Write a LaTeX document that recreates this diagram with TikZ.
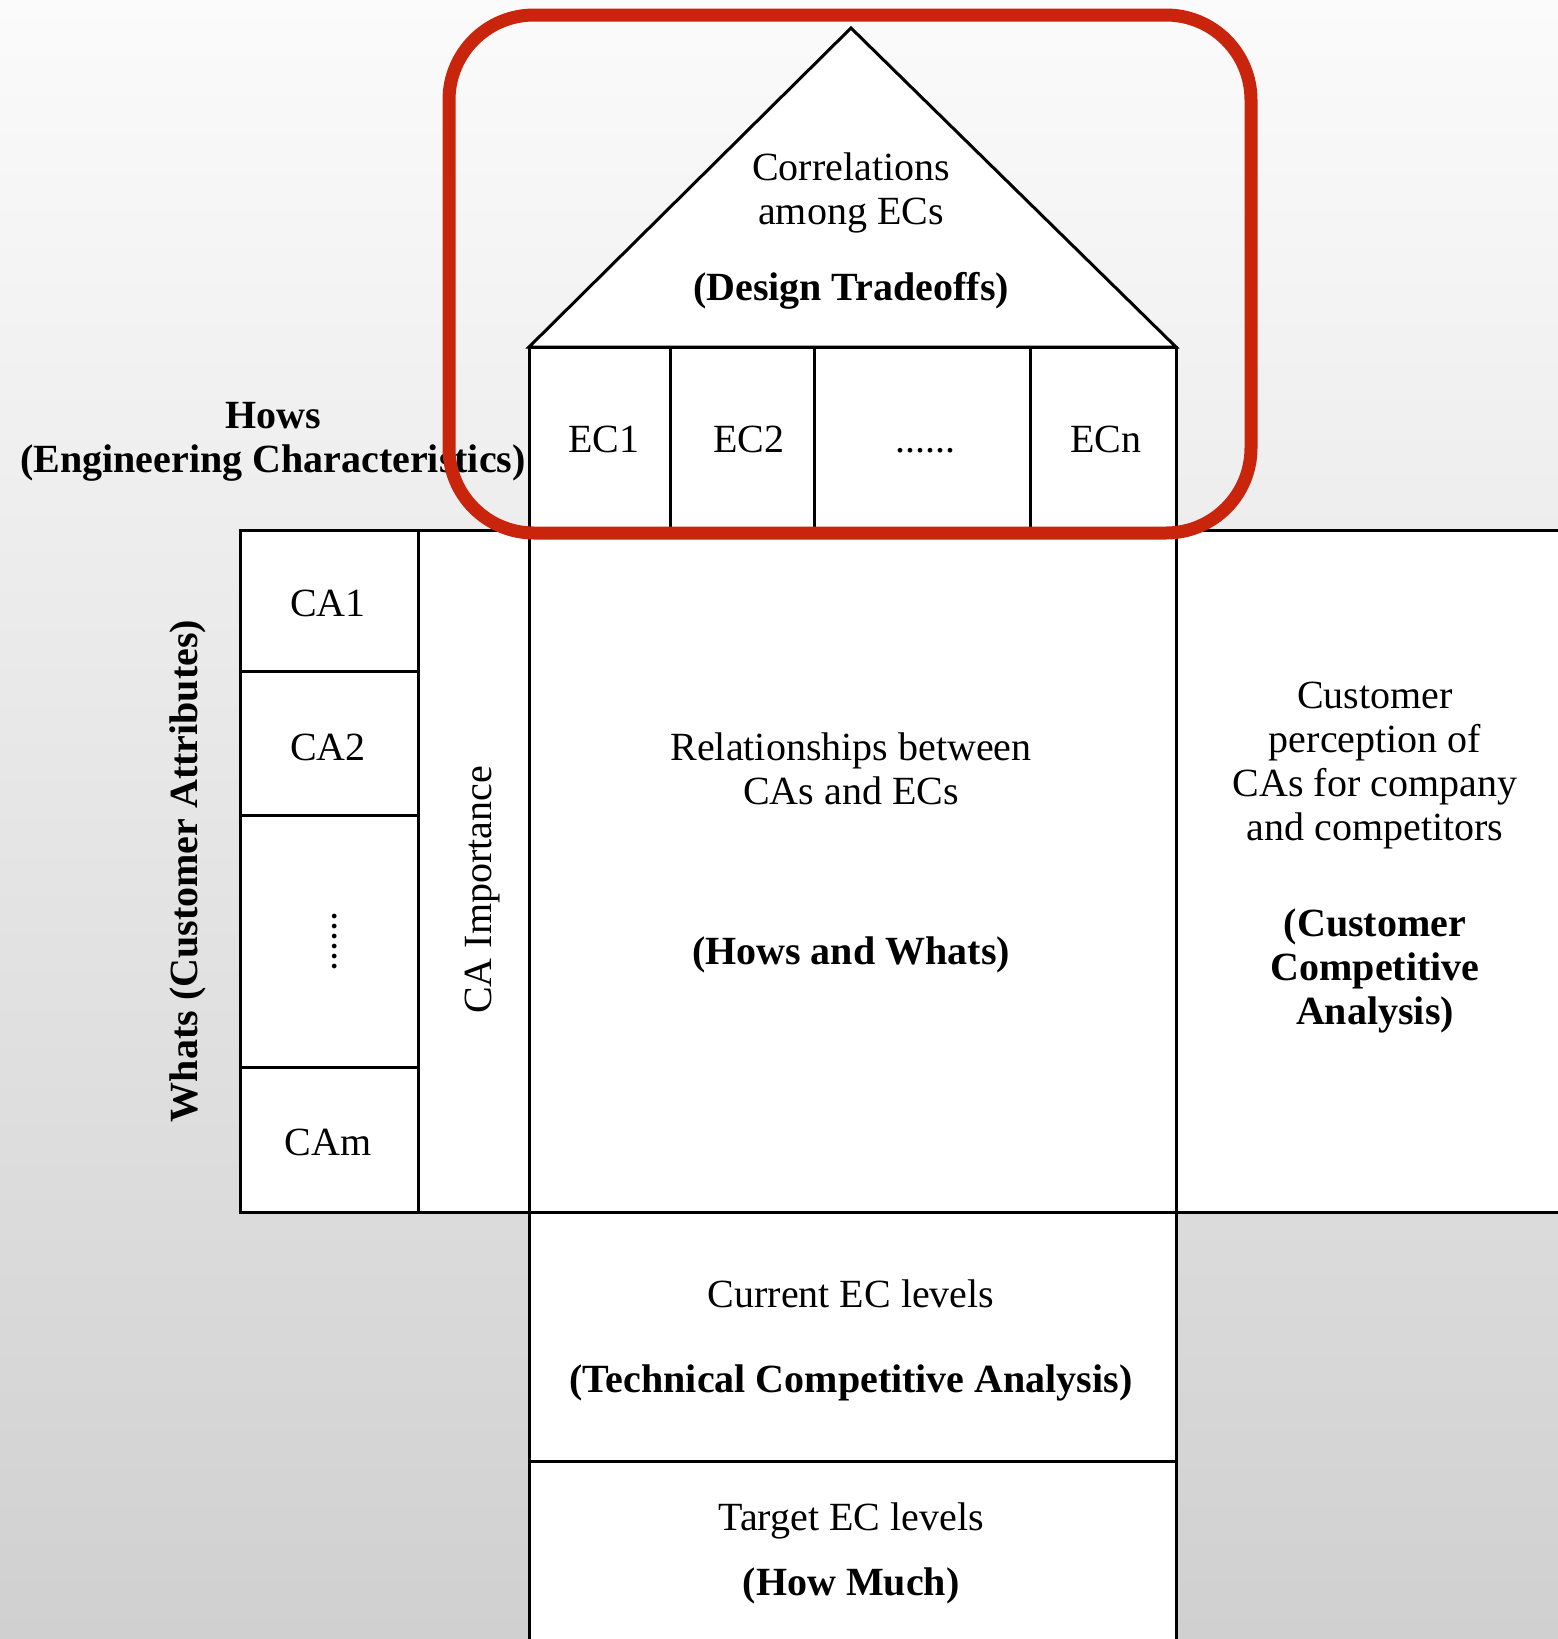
\documentclass[tikz,border=0pt]{standalone}
\usepackage{fontspec}
\setmainfont{Liberation Serif}
\definecolor{frame}{RGB}{201,36,12}
\definecolor{bgtop}{RGB}{251,251,251}
\definecolor{bgbot}{RGB}{208,208,208}
\begin{document}
\begin{tikzpicture}[x=1pt,y=-1pt,
  cell/.style={draw=black, fill=white, line width=3pt, inner sep=0pt, outer sep=0pt},
  txt/.style={font=\fontsize{40}{44}\selectfont, align=center, inner sep=0pt, anchor=base},
  btxt/.style={txt, font=\fontsize{40}{44}\selectfont\bfseries},
  redframe/.style={draw=frame, line width=13pt, rounded corners=85pt}]
\useasboundingbox (0,0) rectangle (1558,1639);
\shade[top color=bgtop, bottom color=bgbot] (0,0) rectangle (1558,1639);
% roof
\filldraw[fill=white, draw=black, line width=3pt, line join=miter] (529,347) -- (851,28) -- (1176,347) -- cycle;
% EC row
\node[cell, minimum width=141pt, minimum height=183pt] (ec1) at (599.5,438.5) {};
\node[cell, minimum width=144pt, minimum height=183pt] (ec2) at (742,438.5) {};
\node[cell, minimum width=216pt, minimum height=183pt] (ecd) at (922,438.5) {};
\node[cell, minimum width=146pt, minimum height=183pt] (ecn) at (1103,438.5) {};
% CA column
\node[cell, minimum width=178pt, minimum height=141pt] (ca1) at (329,600.5) {};
\node[cell, minimum width=178pt, minimum height=144pt] (ca2) at (329,743) {};
\node[cell, minimum width=178pt, minimum height=252pt] (cad) at (329,941) {};
\node[cell, minimum width=178pt, minimum height=145pt] (cam) at (329,1139.5) {};
\node[cell, minimum width=111pt, minimum height=682pt] (caimp) at (473.5,871) {};
% main
\node[cell, minimum width=647pt, minimum height=682pt] (rel) at (852.5,871) {};
\node[cell, minimum width=398pt, minimum height=682pt] (cust) at (1375,871) {};
\node[cell, minimum width=647pt, minimum height=249pt] (cur) at (852.5,1336.5) {};
\node[cell, minimum width=647pt, minimum height=199pt] (tgt) at (852.5,1560.5) {};
% texts (anchor=base of a multi-line node is the baseline of its last line)
\node[txt] (tcorr) at (851,224) {Correlations\\among ECs};
\node[btxt] (tdt) at (851,300) {(Design Tradeoffs)};
\node[txt] (tec1) at (604,452) {EC1};
\node[txt] (tec2) at (749,452) {EC2};
\node[txt] (tecd) at (925,452) {......};
\node[txt] (tecn) at (1106,452) {ECn};
\node[btxt] (thows) at (273,472) {Hows\\(Engineering Characteristics)};
\node[txt] (tca1) at (328,616) {CA1};
\node[txt] (tca2) at (328,760) {CA2};
\node[txt, rotate=90] (tcad) at (336,941) {......};
\node[txt] (tcam) at (328,1155) {CAm};
\node[btxt, anchor=center, rotate=90] (twhats) at (188,871) {Whats (Customer Attributes)};
\node[txt, anchor=center, rotate=90] (timp) at (483,890) {CA Importance};
\node[txt] (trel) at (851,804) {Relationships between\\CAs and ECs};
\node[btxt] (thw) at (851,964) {(Hows and Whats)};
\node[txt] (tcust) at (1375,840) {Customer\\perception of\\CAs for company\\and competitors};
\node[btxt] (tcca) at (1375,1024) {(Customer\\Competitive\\Analysis)};
\node[txt] (tcur) at (851,1307) {Current EC levels};
\node[btxt] (ttca) at (851,1392) {(Technical Competitive Analysis)};
\node[txt] (ttgt) at (851,1530) {Target EC levels};
\node[btxt] (thm) at (851,1595) {(How Much)};
% red frame
\draw[redframe] (449,15) rectangle (1251,533);
\end{tikzpicture}
\end{document}
